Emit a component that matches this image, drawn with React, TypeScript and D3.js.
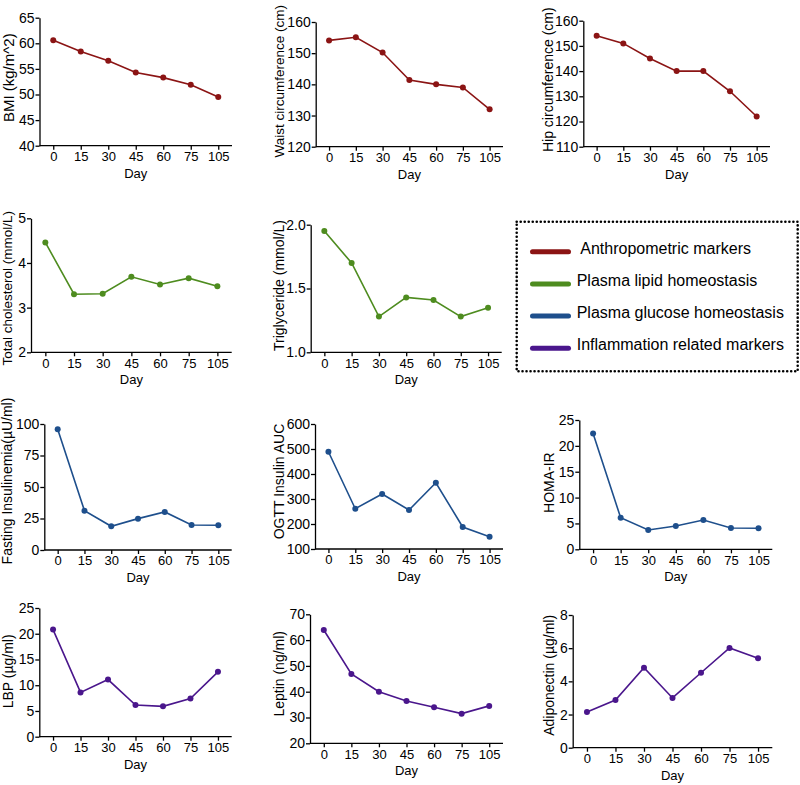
import React, { useEffect, useRef } from 'react';
import * as d3 from 'd3';

const days = ['0', '15', '30', '45', '60', '75', '105'];

const bmi = [60.6, 58.4, 56.6, 54.3, 53.3, 51.9, 49.5];
const waist = [154.1, 155.1, 150.2, 141.4, 140, 139, 132];
const hip = [154, 151, 145, 140, 140, 132, 122];
const cholesterol = [4.46, 3.3, 3.31, 3.69, 3.52, 3.66, 3.48];
const triglyceride = [1.95, 1.7, 1.28, 1.43, 1.41, 1.28, 1.35];
const insulin = [95.8, 31.2, 18.8, 24.9, 30.2, 19.8, 19.6];
const ogtt = [489, 261, 320, 256, 365, 188, 149];
const homa = [22.4, 6.1, 3.74, 4.5, 5.67, 4.12, 4.06];
const lbp = [20.8, 8.6, 11.1, 6.15, 5.9, 7.4, 12.6];
const leptin = [63.9, 46.9, 40, 36.4, 34, 31.5, 34.5];
const adiponectin = [2.15, 2.87, 4.82, 3.0, 4.52, 6.01, 5.39];

const bmiTicks = [40, 45, 50, 55, 60, 65];
const waistTicks = [120, 130, 140, 150, 160];
const hipTicks = [110, 120, 130, 140, 150, 160];
const cholTicks = [2, 3, 4, 5];
const trigTicks = [1.0, 1.5, 2.0];
const insulinTicks = [0, 25, 50, 75, 100];
const ogttTicks = [100, 200, 300, 400, 500, 600];
const homaTicks = [0, 5, 10, 15, 20, 25];
const lbpTicks = [0, 5, 10, 15, 20, 25];
const leptinTicks = [20, 30, 40, 50, 60, 70];
const adipoTicks = [0, 2, 4, 6, 8];

const legendNames = [
  ' Anthropometric markers',
  'Plasma lipid homeostasis',
  'Plasma glucose homeostasis',
  'Inflammation related markers',
];
const groupColors = ['#8b1414', '#4e8c1f', '#1e4f8c', '#4a168c'];

const FONT = '"Liberation Sans", Arial, Helvetica, sans-serif';

// panel frames: axis box + y label placement
const panels = [
  { label: 'BMI (kg/m^2)', values: bmi, ticks: bmiTicks, fmt: 'd', group: 0,
    box: [39.5, 17.7, 232, 145.7], lab: { off: 26, dy: -4, size: 15 } },
  { label: 'Waist circumference (cm)', values: waist, ticks: waistTicks, fmt: 'd', group: 0,
    box: [315.7, 22, 503, 146.7], lab: { off: 32, dy: -3, size: 13.5 } },
  { label: 'Hip circumference (cm)', values: hip, ticks: hipTicks, fmt: 'd', group: 0,
    box: [583.3, 20.7, 770, 146.7], lab: { off: 30, dy: -4, size: 14 } },
  { label: 'Total cholesterol (mmol/L)', values: cholesterol, ticks: cholTicks, fmt: 'd', group: 1,
    box: [31, 218.3, 231.7, 352.3], lab: { off: 19, dy: 3, size: 13.5 } },
  { label: 'Triglyceride (mmol/L)', values: triglyceride, ticks: trigTicks, fmt: '.1f', group: 1,
    box: [310.7, 224.7, 501.7, 352.3], lab: { off: 27, dy: -3, size: 14 } },
  { label: 'Fasting Insulinemia(µU/ml)', values: insulin, ticks: insulinTicks, fmt: 'd', group: 2,
    box: [44.3, 424, 231.7, 550], lab: { off: 32, dy: -6, size: 14 } },
  { label: 'OGTT Insulin AUC', values: ogtt, ticks: ogttTicks, fmt: 'd', group: 2,
    box: [315, 424, 503, 549], lab: { off: 31, dy: -5, size: 14 } },
  { label: 'HOMA-IR', values: homa, ticks: homaTicks, fmt: 'd', group: 2,
    box: [579.3, 420, 772.3, 549.3], lab: { off: 25, dy: -2, size: 14 } },
  { label: 'LBP (µg/ml)', values: lbp, ticks: lbpTicks, fmt: 'd', group: 3,
    box: [39.3, 608, 231.7, 736.7], lab: { off: 26, dy: -1, size: 14 } },
  { label: 'Leptin (ng/ml)', values: leptin, ticks: leptinTicks, fmt: 'd', group: 3,
    box: [310, 614.3, 503, 743.3], lab: { off: 26, dy: -5, size: 14 } },
  { label: 'Adiponectin (µg/ml)', values: adiponectin, ticks: adipoTicks, fmt: 'd', group: 3,
    box: [572.7, 615, 772.3, 747.7], lab: { off: 19, dy: -6, size: 14 } },
];

const App = () => {
  const svgRef = useRef<SVGSVGElement | null>(null);

  useEffect(() => {
    if (!svgRef.current) return;
    const svg = d3.select(svgRef.current);
    svg.selectAll('*').remove();

    panels.forEach((p) => {
      const [x0, y0, x1, y1] = p.box;
      const color = groupColors[p.group];
      const x = d3.scalePoint<string>().domain(days).range([x0, x1]).padding(0.5);
      const y = d3.scaleLinear()
        .domain([p.ticks[0], p.ticks[p.ticks.length - 1]])
        .range([y1, y0]);

      const g = svg.append('g');

      const yAxis = g.append('g')
        .attr('transform', `translate(${x0},0)`)
        .call(d3.axisLeft(y).tickValues(p.ticks).tickSize(4).tickSizeOuter(0).tickPadding(1)
          .tickFormat(d3.format(p.fmt)));
      yAxis.select('.domain').attr('stroke', '#000').attr('stroke-width', 1.3);
      yAxis.selectAll('.tick line').attr('stroke', '#000').attr('stroke-width', 1.3);
      yAxis.selectAll('.tick text')
        .attr('font-family', FONT).attr('font-size', 14).attr('fill', '#000');

      const xAxis = g.append('g')
        .attr('transform', `translate(0,${y1})`)
        .call(d3.axisBottom(x).tickSize(4).tickSizeOuter(0).tickPadding(2));
      xAxis.select('.domain').attr('stroke', '#000').attr('stroke-width', 1.3)
        .attr('d', `M${x0},0H${x1}`);
      xAxis.selectAll('.tick line').attr('stroke', '#000').attr('stroke-width', 1.3);
      xAxis.selectAll('.tick text')
        .attr('font-family', FONT).attr('font-size', 13).attr('fill', '#000');

      g.append('text')
        .attr('x', (x0 + x1) / 2)
        .attr('y', y1 + 32)
        .attr('text-anchor', 'middle')
        .attr('font-family', FONT)
        .attr('font-size', 13)
        .text('Day');

      g.append('text')
        .attr('transform', `translate(${x0 - p.lab.off},${(y0 + y1) / 2 + p.lab.dy}) rotate(-90)`)
        .attr('text-anchor', 'middle')
        .attr('font-family', FONT)
        .attr('font-size', p.lab.size)
        .text(p.label);

      const line = d3.line<number>()
        .x((d, i) => x(days[i]) as number)
        .y((d) => y(d));

      g.append('path')
        .datum(p.values)
        .attr('d', line)
        .attr('fill', 'none')
        .attr('stroke', color)
        .attr('stroke-width', 1.6);

      g.selectAll('.dot')
        .data(p.values)
        .enter()
        .append('circle')
        .attr('cx', (d, i) => x(days[i]) as number)
        .attr('cy', (d) => y(d))
        .attr('r', 3)
        .attr('fill', color);
    });

    // legend box
    const lg = svg.append('g');
    lg.append('rect')
      .attr('x', 516.7)
      .attr('y', 221.7)
      .attr('width', 281)
      .attr('height', 149.6)
      .attr('fill', 'none')
      .attr('stroke', '#000')
      .attr('stroke-width', 2.6)
      .attr('stroke-linecap', 'round')
      .attr('stroke-dasharray', '0.01 4');

    const rowY = d3.scalePoint<string>().domain(legendNames).range([251.7, 348.3]);
    legendNames.forEach((name, i) => {
      const yy = rowY(name) as number;
      lg.append('line')
        .attr('x1', 532.5).attr('x2', 568.5)
        .attr('y1', yy).attr('y2', yy)
        .attr('stroke', groupColors[i])
        .attr('stroke-width', 5)
        .attr('stroke-linecap', 'round');
      lg.append('text')
        .attr('x', 576.7)
        .attr('y', yy + 2)
        .attr('font-family', FONT)
        .attr('font-size', 16)
        .attr('xml:space', 'preserve')
        .style('white-space', 'pre')
        .text(name);
    });
  }, []);

  return (
    <svg
      ref={svgRef}
      width={800}
      height={785}
      style={{ position: 'absolute', left: 0, top: 0, background: '#fff' }}
    />
  );
};

export default App;
